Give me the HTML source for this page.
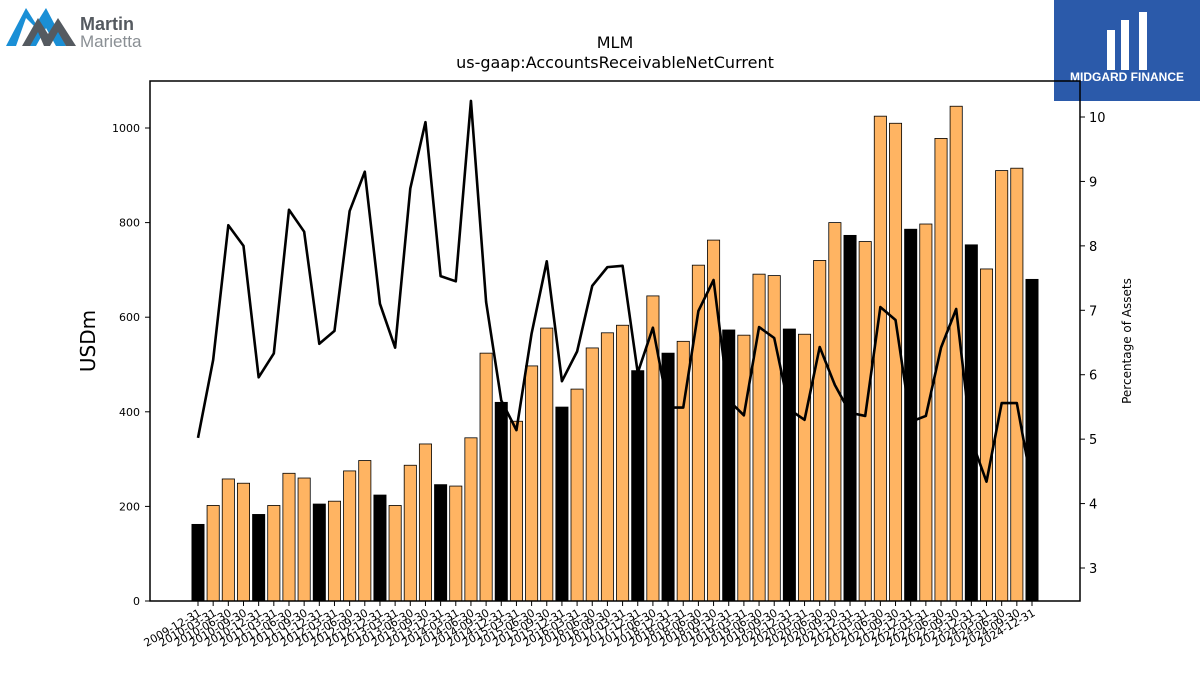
<!DOCTYPE html>
<html><head><meta charset="utf-8"><style>
body{margin:0;background:#fff;width:1200px;height:675px;overflow:hidden;font-family:"DejaVu Sans","Liberation Sans",sans-serif}
</style></head><body>
<svg id="chart" width="1200" height="675" xmlns="http://www.w3.org/2000/svg">
<g>
<polygon points="6,46 26,8 36,24 46,8 66,46 56,46 46,28 36,46 26,46 36,28 26,18 16,46" fill="#1a8fd6"/>
<polygon points="22,46 38,18 48,34 58,18 76,46 66,46 58,32 50,46 44,46 38,32 30,46" fill="#555a60"/>
<text x="80" y="30" font-size="18" fill="#555a60" font-family="Liberation Sans, sans-serif" font-weight="bold">Martin</text>
<text x="80" y="47" font-size="17" fill="#8a8f94" font-family="Liberation Sans, sans-serif">Marietta</text>
</g>
<g>
<rect x="1054" y="0" width="146" height="101" fill="#2b5aaa"/>
<rect x="1107" y="30" width="8" height="40" fill="#fff"/>
<rect x="1121" y="20" width="8" height="50" fill="#fff"/>
<rect x="1139" y="12" width="8" height="58" fill="#fff"/>
<text x="1127" y="81" font-size="12" font-weight="bold" fill="#fff" text-anchor="middle" font-family="Liberation Sans, sans-serif">MIDGARD FINANCE</text>
</g>
<text x="615" y="48" font-size="16" text-anchor="middle">MLM</text>
<text x="615" y="68" font-size="16" text-anchor="middle">us-gaap:AccountsReceivableNetCurrent</text>
<text x="95" y="341" font-size="20" text-anchor="middle" transform="rotate(-90 95 341)">USDm</text>
<text x="1131" y="341" font-size="12" text-anchor="middle" transform="rotate(-90 1131 341)">Percentage of Assets</text>
<g id="bars"></g><g id="line"></g><g id="axes"></g>
</svg>
<script>
const categories=["2009-12-31","2010-03-31","2010-06-30","2010-09-30","2010-12-31","2011-03-31","2011-06-30","2011-09-30","2011-12-31","2012-03-31","2012-06-30","2012-09-30","2012-12-31","2013-03-31","2013-06-30","2013-09-30","2013-12-31","2014-03-31","2014-06-30","2014-09-30","2014-12-31","2015-03-31","2015-06-30","2015-09-30","2015-12-31","2016-03-31","2016-06-30","2016-09-30","2017-03-31","2017-12-31","2017-06-30","2018-12-31","2018-03-31","2018-06-30","2018-09-30","2019-12-31","2019-03-31","2019-06-30","2019-09-30","2020-12-31","2020-03-31","2020-06-30","2020-09-30","2021-12-31","2021-03-31","2021-06-30","2021-09-30","2022-12-31","2022-03-31","2022-06-30","2022-09-30","2023-12-31","2024-03-31","2024-06-30","2024-09-30","2024-12-31"];
const receivables=[162,202,258,249,183,202,270,260,205,211,275,297,224,202,287,332,246,243,345,524,420,380,497,577,410,448,535,567,583,487,645,524,549,710,763,573,562,691,688,575,564,720,800,773,760,1025,1010,786,797,978,1046,753,702,910,915,680];
const pctAssets=[5.02,6.23,8.32,8.0,5.96,6.33,8.56,8.22,6.48,6.68,8.54,9.15,7.1,6.42,8.89,9.92,7.53,7.45,10.25,7.13,5.6,5.14,6.64,7.76,5.9,6.36,7.38,7.67,7.69,6.03,6.73,5.49,5.49,6.99,7.47,5.6,5.37,6.74,6.57,5.46,5.3,6.43,5.84,5.41,5.36,7.05,6.85,5.27,5.36,6.42,7.02,4.99,4.34,5.56,5.56,4.27];
const leftTicks=[0,200,400,600,800,1000];
const rightTicks=[3,4,5,6,7,8,9,10];
const NS="http://www.w3.org/2000/svg";
const L=150,R=1080,T=81,B=601;
const x=i=>198+i*(1032-198)/(categories.length-1);
const yL=v=>601-v*0.473;
const yR=v=>117+(10-v)*64.43;
function mk(t,a,p){const e=document.createElementNS(NS,t);for(const k in a)e.setAttribute(k,a[k]);(p||document.getElementById('axes')).appendChild(e);return e;}
const bw=12.2;
categories.forEach((c,i)=>{
 const black=c.endsWith("12-31");
 const r=mk('rect',{x:x(i)-bw/2,y:yL(receivables[i]),width:bw,height:B-yL(receivables[i]),fill:black?'#000':'#ffb462',stroke:'#000','stroke-width':0.8},document.getElementById('bars'));
 
 
});
const pl=mk('polyline',{points:pctAssets.map((v,i)=>x(i)+','+yR(v)).join(' '),fill:'none',stroke:'#000','stroke-width':2.6,'stroke-linejoin':'round'},document.getElementById('line'));


const fr=mk('rect',{x:L,y:T,width:R-L,height:B-T,fill:'none',stroke:'#000','stroke-width':1.5});


leftTicks.forEach(v=>{mk('line',{x1:L-5,x2:L,y1:yL(v),y2:yL(v),stroke:'#000'});
 const t=mk('text',{x:L-10,y:yL(v)+4,'font-size':11,'text-anchor':'end'});t.textContent=v;
 
 });
rightTicks.forEach(v=>{mk('line',{x1:R,x2:R+5,y1:yR(v),y2:yR(v),stroke:'#000'});
 const t=mk('text',{x:R+9,y:yR(v)+5,'font-size':13});t.textContent=v;
 
 });
categories.forEach((c,i)=>{mk('line',{x1:x(i),x2:x(i),y1:B,y2:B+5,stroke:'#000'});
 const t=mk('text',{x:x(i)+4,y:B+14,'font-size':11,'text-anchor':'end',transform:`rotate(-30 ${x(i)+4} ${B+14})`});t.textContent=c;
 
 });
</script>
</body></html>
